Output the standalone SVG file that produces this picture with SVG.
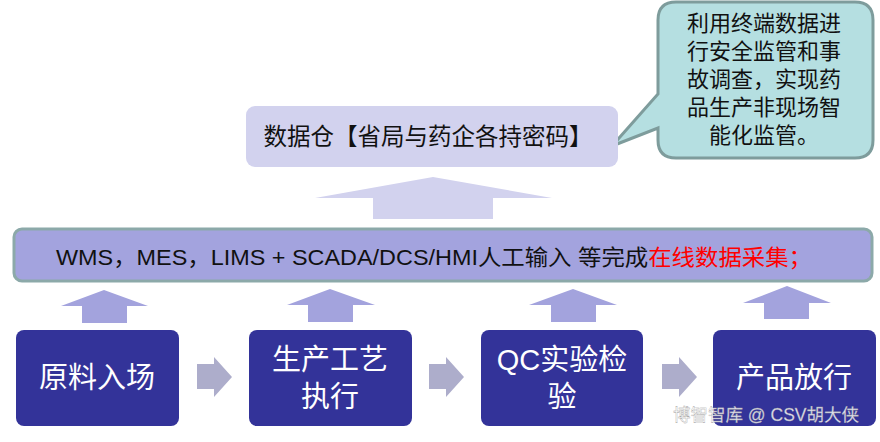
<svg xmlns="http://www.w3.org/2000/svg" width="880" height="442" viewBox="0 0 880 442">
<style>
.cjk{font-family:"Liberation Sans","Noto Sans CJK SC",sans-serif;}
.step{fill:#333399;}
.stepText{fill:#ffffff;font-size:29px;text-anchor:middle;font-family:"Liberation Sans","Noto Sans CJK SC",sans-serif;}
.upArrow{fill:#A3A3DD;}
.rightArrow{fill:#ADADCB;}
</style>
<rect width="880" height="442" fill="#ffffff"/>

<g id="callout">
<path d="M676,2 H855 Q873,2 873,20 V140 Q873,158 855,158 H676 Q658,158 658,140 V128 L612,146 L658,94 V20 Q658,2 676,2 Z" fill="#B5DFE1" stroke="#7E9C9C" stroke-width="3"/>
<g class="cjk" font-size="22" fill="#111111" text-anchor="middle">
<text x="764" y="31">利用终端数据进</text>
<text x="764" y="59">行安全监管和事</text>
<text x="764" y="87">故调查，实现药</text>
<text x="764" y="115">品生产非现场智</text>
<text x="764" y="143">能化监管。</text>
</g>
</g>

<g id="warehouse">
<rect x="246" y="106" width="372" height="61" rx="9" fill="#D2D2EE"/>
<text x="428" y="145" class="cjk" font-size="23.5" fill="#111111" text-anchor="middle">数据仓【省局与药企各持密码】</text>
</g>

<g id="bigArrow">
<polygon points="433,177 552,198 493,198 493,219 373,219 373,198 315,198" fill="#D2D2EE"/>
</g>

<g id="collectBar">
<rect x="14" y="229" width="858" height="52" rx="8" fill="#A3A3DE" stroke="#8CA9A9" stroke-width="3"/>
<text x="56" y="265" class="cjk" font-size="22" fill="#111111" textLength="756" lengthAdjust="spacingAndGlyphs">WMS，MES，LIMS + SCADA/DCS/HMI人工输入 等完成<tspan fill="#FF0000">在线数据采集；</tspan></text>
</g>

<g id="step1">
<rect class="step" x="16" y="330" width="163" height="96" rx="8"/>
<text class="stepText" x="97" y="388">原料入场</text>
</g>
<g id="step2">
<rect class="step" x="249" y="330" width="163" height="96" rx="8"/>
<text class="stepText" x="330" y="370">生产工艺</text>
<text class="stepText" x="330" y="407">执行</text>
</g>
<g id="step3">
<rect class="step" x="481" y="330" width="162" height="96" rx="8"/>
<text class="stepText" x="562" y="370">QC实验检</text>
<text class="stepText" x="562" y="407">验</text>
</g>
<g id="step4">
<rect class="step" x="713" y="330" width="163" height="96" rx="8"/>
<text class="stepText" x="794" y="388">产品放行</text>
</g>

<g id="connectors">
<polygon class="upArrow" points="104,290 148,306 127,306 127,323 82,323 82,306 61,306"/>
<polygon class="upArrow" points="330,289 375,305 353,305 353,322 308,322 308,305 287,305"/>
<polygon class="upArrow" points="573,289 617,305 596,305 596,322 551,322 551,305 529,305"/>
<polygon class="upArrow" points="787,286 831,303 809,303 809,319 764,319 764,303 743,303"/>
<polygon class="rightArrow" points="197,364 214,364 214,357 232,377 214,397 214,389 197,389"/>
<polygon class="rightArrow" points="429,364 446,364 446,357 464,377 446,397 446,389 429,389"/>
<polygon class="rightArrow" points="662,364 679,364 679,357 697,377 679,397 679,389 662,389"/>
</g>

<text x="766" y="421" class="cjk" font-size="17.5" text-anchor="middle" fill="#ffffff" fill-opacity="0.85" stroke="#999999" stroke-width="0.3">博智智库 @ CSV胡大侠</text>
</svg>
